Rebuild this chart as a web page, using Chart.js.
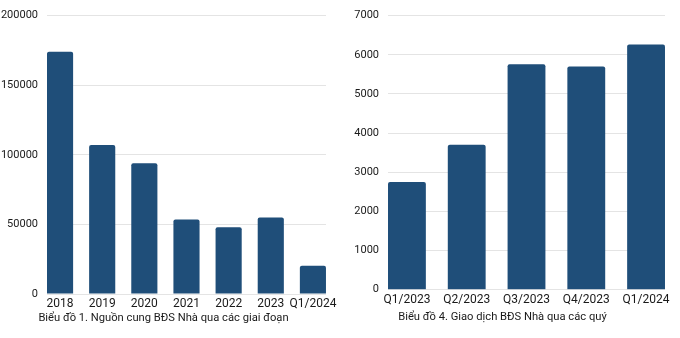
<!DOCTYPE html>
<html>
<head>
<meta charset="utf-8">
<script src="https://cdn.jsdelivr.net/npm/chart.js@4"></script>
<style>
  html, body { margin: 0; padding: 0; background: #fff; }
  .wrap { display: flex; width: 680px; height: 338px; }
  .box { width: 340px; height: 338px; position: relative; }
</style>
</head>
<body>
<div class="wrap">
  <div class="box"><canvas id="supplyChart"></canvas></div>
  <div class="box"><canvas id="dealChart"></canvas></div>
</div>
<script>
const supplyLabels = ["2018", "2019", "2020", "2021", "2022", "2023", "Q1/2024"];
const supplyValues = [174000, 107000, 94000, 53500, 48000, 55000, 20300];
const supplyTicks = [0, 50000, 100000, 150000, 200000];
const supplyTitle = "Biểu đồ 1. Nguồn cung BĐS Nhà qua các giai đoạn";

const dealLabels = ["Q1/2023", "Q2/2023", "Q3/2023", "Q4/2023", "Q1/2024"];
const dealValues = [2750, 3700, 5760, 5700, 6260];
const dealTicks = [0, 1000, 2000, 3000, 4000, 5000, 6000, 7000];
const dealTitle = "Biểu đồ 4. Giao dịch BĐS Nhà qua các quý";

const barColor = "#1f4e79";
const textColor = "#1a1a1a";
Chart.defaults.font.family = "Roboto";

function makeChart(id, labels, values, ticks, title, edge, barPct, pad, titlePad) {
    const points = values.map((v, i) => ({ x: i, y: v }));
    new Chart(document.getElementById(id), {
        type: "bar",
        data: {
            datasets: [{
                data: points,
                backgroundColor: barColor,
                borderRadius: { topLeft: 2, topRight: 2 },
                borderSkipped: "bottom",
                barPercentage: 1,
                categoryPercentage: barPct
            }]
        },
        options: {
            responsive: true,
            maintainAspectRatio: false,
            animation: false,
            layout: { padding: pad, autoPadding: false },
            plugins: {
                legend: { display: false },
                tooltip: { enabled: false },
                title: {
                    display: true,
                    text: title,
                    position: "bottom",
                    color: textColor,
                    font: { size: 11.2, weight: "normal", lineHeight: 1 },
                    padding: titlePad
                }
            },
            scales: {
                x: {
                    type: "linear",
                    offset: false,
                    min: -edge,
                    max: labels.length - 1 + edge,
                    grid: { display: false, offset: false, drawTicks: false },
                    border: { display: false },
                    ticks: {
                        stepSize: 1,
                        includeBounds: false,
                        autoSkip: false,
                        maxRotation: 0,
                        padding: 3,
                        color: textColor,
                        font: { size: 12 },
                        callback: v => Number.isInteger(v) ? labels[v] : ""
                    }
                },
                y: {
                    min: ticks[0],
                    max: ticks[ticks.length - 1],
                    afterBuildTicks: s => { s.ticks = ticks.map(t => ({ value: t })); },
                    afterFit: s => { s.width = pad.yWidth; },
                    grid: { color: "#e4e4e4", drawTicks: false },
                    border: { display: false },
                    ticks: {
                        padding: 9,
                        color: textColor,
                        font: { size: 11 },
                        callback: v => String(v)
                    }
                }
            }
        }
    });
}

makeChart("supplyChart", supplyLabels, supplyValues, supplyTicks, supplyTitle,
    13 / 42, 0.62, { top: 13, right: 13, left: 0, bottom: 0, yWidth: 47 },
    { top: -2, bottom: 14.4 });
makeChart("dealChart", dealLabels, dealValues, dealTicks, dealTitle,
    19 / 60, 0.633, { top: 10, right: 15, left: 0, bottom: 0, yWidth: 48 },
    { top: 1, bottom: 15.7 });
</script>
</body>
</html>
